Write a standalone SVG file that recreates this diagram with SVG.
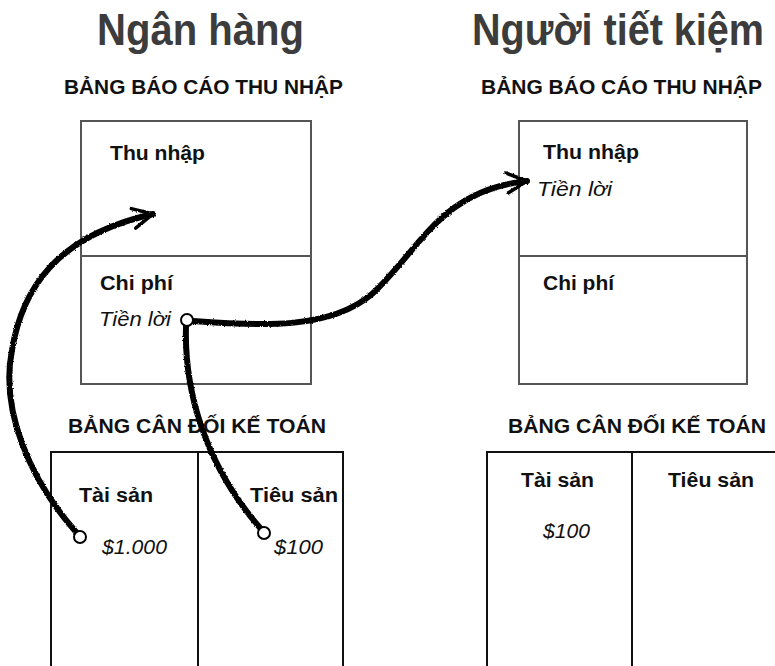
<svg xmlns="http://www.w3.org/2000/svg" width="775" height="666" viewBox="0 0 775 666">
<style>
.title{font-family:"Liberation Sans",Arial,sans-serif;font-weight:bold;font-size:44px;fill:#3c3c3c}
.head{font-family:"Liberation Sans",Arial,sans-serif;font-weight:bold;font-size:21px;fill:#111}
.lbl{font-family:"Liberation Sans",Arial,sans-serif;font-weight:bold;font-size:20px;fill:#111}
.it{font-family:"Liberation Sans",Arial,sans-serif;font-style:italic;font-size:20px;fill:#111}
.box{fill:none;stroke:#555;stroke-width:2}
.bs{fill:none;stroke:#111;stroke-width:2}
.conn{fill:none;stroke:#000;stroke-width:6;stroke-linecap:round;filter:url(#rough)}
.dot{fill:#fff;stroke:#000;stroke-width:2}
</style>
<defs>
<filter id="rough" x="-10%" y="-10%" width="120%" height="120%">
<feTurbulence type="fractalNoise" baseFrequency="0.9" numOctaves="2" seed="3"/>
<feDisplacementMap in="SourceGraphic" scale="2.5" xChannelSelector="R" yChannelSelector="G"/>
</filter>
<marker id="arr" markerUnits="userSpaceOnUse" markerWidth="30" markerHeight="30" refX="0" refY="0" viewBox="-20 -15 25 30" orient="auto" overflow="visible">
<path d="M -20 -10 L 0 0 L -20 10" fill="none" stroke="#000" stroke-width="3.5" stroke-linecap="round" stroke-linejoin="round"/>
</marker>
</defs>
<rect width="775" height="666" fill="#fff"/>

<g id="title-bank"><text class="title" x="97" y="45" textLength="207" lengthAdjust="spacingAndGlyphs">Ngân hàng</text></g>
<g id="title-saver"><text class="title" x="472" y="45" textLength="292" lengthAdjust="spacingAndGlyphs">Người tiết kiệm</text></g>

<g id="bank-income">
<text class="head" x="64" y="94" textLength="279" lengthAdjust="spacingAndGlyphs">BẢNG BÁO CÁO THU NHẬP</text>
<rect class="box" x="81" y="121" width="230" height="263"/>
<line class="box" x1="81" y1="256" x2="311" y2="256"/>
<text class="lbl" x="110" y="160" textLength="95" lengthAdjust="spacingAndGlyphs">Thu nhập</text>
<text class="lbl" x="100" y="290" textLength="73" lengthAdjust="spacingAndGlyphs">Chi phí</text>
<text class="it" x="99" y="326" textLength="72" lengthAdjust="spacingAndGlyphs">Tiền lời</text>
</g>

<g id="saver-income">
<text class="head" x="481" y="94" textLength="281" lengthAdjust="spacingAndGlyphs">BẢNG BÁO CÁO THU NHẬP</text>
<rect class="box" x="519" y="121" width="228" height="263"/>
<line class="box" x1="519" y1="256" x2="747" y2="256"/>
<text class="lbl" x="543" y="159" textLength="96" lengthAdjust="spacingAndGlyphs">Thu nhập</text>
<text class="it" x="537" y="196" textLength="75" lengthAdjust="spacingAndGlyphs">Tiền lời</text>
<text class="lbl" x="543" y="290" textLength="71" lengthAdjust="spacingAndGlyphs">Chi phí</text>
</g>

<g id="bank-balance">
<text class="head" x="68" y="433" textLength="258" lengthAdjust="spacingAndGlyphs" style="font-size:20px">BẢNG CÂN ĐỐI KẾ TOÁN</text>
<rect class="bs" x="51" y="452" width="292" height="230"/>
<line class="bs" x1="198" y1="452" x2="198" y2="670"/>
<text class="lbl" x="79" y="502" textLength="74" lengthAdjust="spacingAndGlyphs">Tài sản</text>
<text class="lbl" x="250" y="502" textLength="88" lengthAdjust="spacingAndGlyphs">Tiêu sản</text>
<text class="it" x="102" y="554" textLength="65" lengthAdjust="spacingAndGlyphs">$1.000</text>
<text class="it" x="274" y="554" textLength="49" lengthAdjust="spacingAndGlyphs">$100</text>
</g>

<g id="saver-balance">
<text class="head" x="508" y="433" textLength="258" lengthAdjust="spacingAndGlyphs" style="font-size:20px">BẢNG CÂN ĐỐI KẾ TOÁN</text>
<rect class="bs" x="487" y="452" width="300" height="230"/>
<line class="bs" x1="632" y1="452" x2="632" y2="670"/>
<text class="lbl" x="521" y="487" textLength="73" lengthAdjust="spacingAndGlyphs">Tài sản</text>
<text class="lbl" x="668" y="487" textLength="86" lengthAdjust="spacingAndGlyphs">Tiêu sản</text>
<text class="it" x="543" y="538" textLength="47" lengthAdjust="spacingAndGlyphs">$100</text>
</g>

<g id="connectors">
<path class="conn" d="M 76 532 C 30 480, 0 410, 12 350 C 22 290, 55 236, 153 214" marker-end="url(#arr)"/>
<path class="conn" d="M 186 326 C 184 390, 205 465, 261 529"/>
<path class="conn" d="M 193 321 C 260 326, 330 330, 372 294 C 420 250, 440 190, 527 181" marker-end="url(#arr)"/>
<circle class="dot" cx="80" cy="537" r="6"/>
<circle class="dot" cx="187" cy="320" r="6"/>
<circle class="dot" cx="264" cy="533" r="6"/>
</g>
</svg>
